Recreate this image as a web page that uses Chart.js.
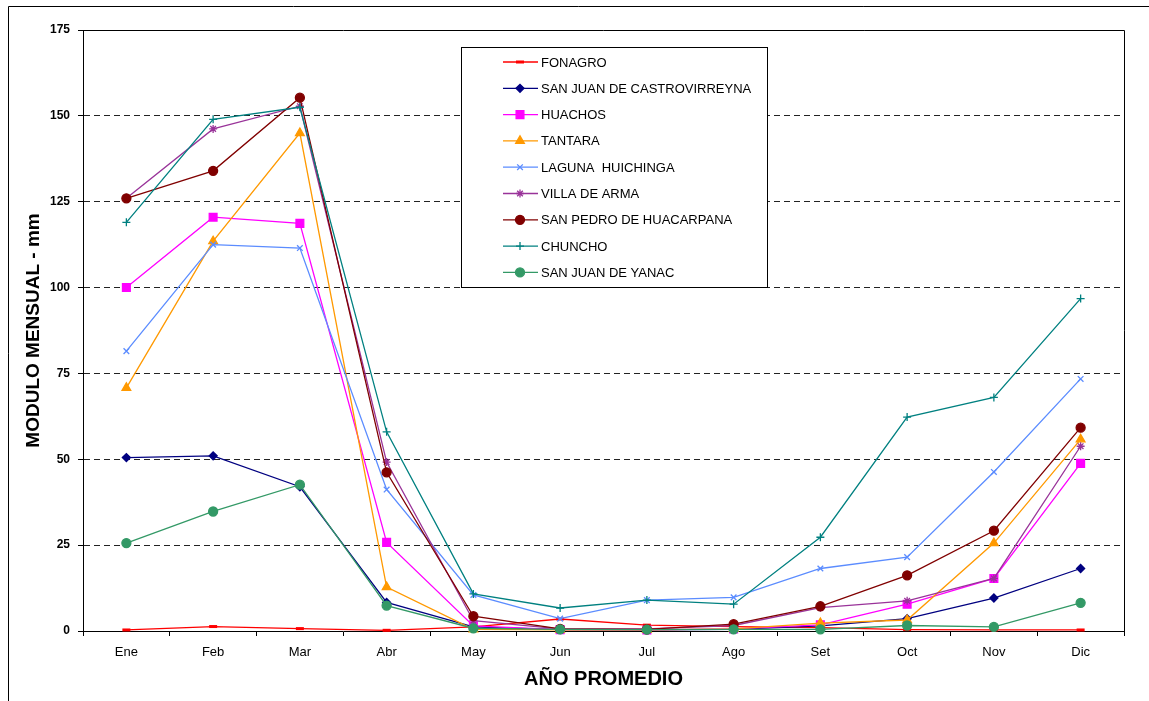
<!DOCTYPE html>
<html>
<head>
<meta charset="utf-8">
<style>
  html, body { margin: 0; padding: 0; background: #fff; }
  #wrap { width: 1149px; height: 701px; }
</style>
</head>
<body>
<div id="wrap"><canvas id="chart" width="1149" height="701"></canvas></div>
<script src="https://cdn.jsdelivr.net/npm/chart.js@4"></script>
<script>
// valores (mm)
const meses = ['Ene', 'Feb', 'Mar', 'Abr', 'May', 'Jun', 'Jul', 'Ago', 'Set', 'Oct', 'Nov', 'Dic'];

const fonagro        = [0.3, 1.3, 0.7, 0.2, 1.2, 3.5, 1.7, 1.3, 1.0, 0.4, 0.3, 0.3];
const castrovirreyna = [50.5, 51, 42, 8.3, 1.2, 0.4, 0.3, 0.5, 1.5, 3.6, 9.6, 18.2];
const huachos        = [100, 120.5, 118.7, 25.8, 1.5, 0.4, 0.3, 0.6, 1.8, 7.8, 15.3, 48.8];
const tantara        = [70.8, 113.5, 145, 12.8, 0.5, 0.3, 0.3, 0.6, 2.3, 3.2, 25.6, 55.8];
const huichinga      = [81.5, 112.5, 111.5, 41.2, 10.5, 3.6, 9, 9.8, 18.2, 21.5, 46.3, 73.4];
const villaArma      = [126, 146.2, 152.8, 49.2, 3.0, 0.6, 0.6, 1.6, 6.8, 8.8, 15.3, 53.8];
const huacarpana     = [126, 134, 155.3, 46.2, 4.3, 0.6, 0.5, 2.0, 7.2, 16.2, 29.2, 59.2];
const chuncho        = [119, 149, 152.5, 58, 10.8, 6.7, 9.0, 7.8, 27.3, 62.3, 68, 96.8];
const yanac          = [25.6, 34.8, 42.6, 7.4, 0.8, 0.5, 0.4, 0.5, 0.5, 1.6, 1.2, 8.2];

const yTicks = [0, 25, 50, 75, 100, 125, 150, 175];

const nombres = ['FONAGRO', 'SAN JUAN DE CASTROVIRREYNA', 'HUACHOS', 'TANTARA', 'LAGUNA  HUICHINGA',
  'VILLA DE ARMA', 'SAN PEDRO DE HUACARPANA', 'CHUNCHO', 'SAN JUAN DE YANAC'];
const series = [fonagro, castrovirreyna, huachos, tantara, huichinga, villaArma, huacarpana, chuncho, yanac];

// estilo de cada serie
const estilos = [
  { color: '#ff0000', point: 'line', r: 4 },
  { color: '#000080', point: 'rectRot', r: 4 },
  { color: '#ff00ff', point: 'rect', r: 5.5 },
  { color: '#ff9900', point: 'triangle', r: 5 },
  { color: '#5b8cff', point: 'crossRot', r: 4 },
  { color: '#993399', point: 'star', r: 4 },
  { color: '#800000', point: 'circle', r: 4.5 },
  { color: '#008080', point: 'cross', r: 4 },
  { color: '#339966', point: 'circle', r: 4.5 }
];

const FONT = "Arial, 'Liberation Sans', sans-serif";

const datasets = series.map((d, i) => ({
  label: nombres[i],
  data: d,
  borderColor: estilos[i].color,
  backgroundColor: estilos[i].color,
  pointBackgroundColor: estilos[i].color,
  pointBorderColor: estilos[i].color,
  pointStyle: estilos[i].point,
  pointRadius: estilos[i].r,
  pointBorderWidth: estilos[i].point === 'line' ? 3 : 1.3,
  borderWidth: 1.3,
  tension: 0,
  clip: false,
  order: series.length - i
}));

// marco del area y borde de la imagen
const marco = {
  id: 'marco',
  afterDraw(chart) {
    const { ctx, chartArea: a } = chart;
    ctx.save();
    ctx.strokeStyle = '#000';
    ctx.lineWidth = 1;
    ctx.beginPath();
    ctx.moveTo(a.left, a.top + 0.5);
    ctx.lineTo(a.right + 0.5, a.top + 0.5);
    ctx.lineTo(a.right + 0.5, a.bottom);
    ctx.stroke();
    ctx.beginPath();
    ctx.moveTo(8.5, 701);
    ctx.lineTo(8.5, 6.5);
    ctx.lineTo(1149, 6.5);
    ctx.stroke();
    ctx.restore();
  }
};

// leyenda dentro del grafico
const leyenda = {
  id: 'leyenda',
  afterDraw(chart) {
    const ctx = chart.ctx;
    const bx = 461.5, by = 47.5, bw = 306, bh = 240;
    ctx.save();
    ctx.fillStyle = '#fff';
    ctx.fillRect(bx, by, bw, bh);
    ctx.strokeStyle = '#000';
    ctx.lineWidth = 1;
    ctx.strokeRect(bx, by, bw, bh);
    ctx.font = '13px ' + FONT;
    ctx.textBaseline = 'middle';
    nombres.forEach((n, i) => {
      const y = 62 + i * 26.3;
      const st = estilos[i];
      ctx.strokeStyle = st.color;
      ctx.fillStyle = st.color;
      ctx.lineWidth = 1.3;
      ctx.beginPath();
      ctx.moveTo(503, y);
      ctx.lineTo(538, y);
      ctx.stroke();
      ctx.lineWidth = st.point === 'line' ? 3 : 1.3;
      if (Chart.helpers && Chart.helpers.drawPoint) {
        Chart.helpers.drawPoint(ctx, { pointStyle: st.point, radius: st.r, rotation: 0, borderWidth: ctx.lineWidth }, 520, y);
      }
      ctx.fillStyle = '#000';
      ctx.fillText(n, 541, y + 1);
    });
    ctx.restore();
  }
};

new Chart(document.getElementById('chart'), {
  type: 'line',
  data: { labels: meses, datasets },
  options: {
    responsive: false,
    animation: false,
    devicePixelRatio: 1,
    layout: { padding: { top: 30, right: 25, left: 0, bottom: 0 } },
    plugins: {
      legend: { display: false },
      tooltip: { enabled: false }
    },
    scales: {
      x: {
        offset: true,
        afterFit: s => { s.height = 70; },
        grid: { drawOnChartArea: false, offset: true, tickLength: 5, color: '#000', tickColor: '#000' },
        border: { display: true, color: '#000', width: 1 },
        ticks: { color: '#000', font: { family: FONT, size: 13 }, padding: 9, maxRotation: 0 },
        title: { display: true, text: 'AÑO PROMEDIO', color: '#000',
          font: { family: FONT, size: 20, weight: 'bold' }, padding: { top: 0, bottom: 10 } }
      },
      y: {
        min: 0,
        max: 175,
        afterFit: s => { s.width = 83; },
        afterBuildTicks: s => { s.ticks = yTicks.map(v => ({ value: v })); },
        grid: {
          color: c => (c.tick && (c.tick.value === 0 || c.tick.value === 175)) ? 'rgba(0,0,0,0)' : '#222',
          tickColor: '#000',
          tickLength: 5,
          lineWidth: 1
        },
        border: { display: true, color: '#000', width: 1, dash: [6, 4] },
        ticks: { color: '#000', font: { family: FONT, size: 12, weight: 'bold' }, padding: 8 },
        title: { display: true, text: 'MODULO MENSUAL - mm', color: '#000',
          font: { family: FONT, size: 19, weight: 'bold' }, padding: { top: 22, bottom: 0 } }
      }
    }
  },
  plugins: [marco, leyenda]
});
</script>
</body>
</html>
